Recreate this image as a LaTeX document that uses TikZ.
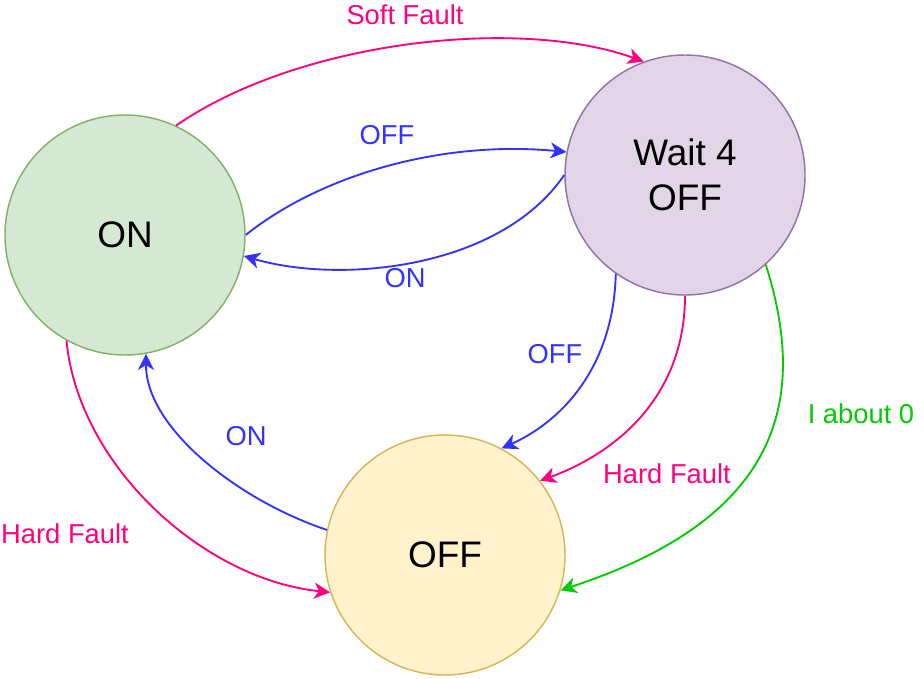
\documentclass[tikz,border=0pt]{standalone}
\usepackage{fontspec}
\setmainfont{Liberation Sans}
\usetikzlibrary{arrows.meta}

\definecolor{pinkline}{HTML}{FF0080}
\definecolor{blueline}{HTML}{3333FF}
\definecolor{greenline}{HTML}{00CC00}
\definecolor{onfill}{HTML}{D5E8D4}
\definecolor{ondraw}{HTML}{82B366}
\definecolor{waitfill}{HTML}{E1D5E7}
\definecolor{waitdraw}{HTML}{9673A6}
\definecolor{offfill}{HTML}{FFF2CC}
\definecolor{offdraw}{HTML}{D6B656}

\tikzset{
  state/.style={circle, minimum size=180pt, inner sep=0pt, line width=1.1pt,
    align=center, font=\fontsize{27.7}{34}\selectfont},
  trans/.style={line width=1.4pt, arrows={-Stealth[length=12pt, width=12pt, inset=3.5pt]}},
  lbl/.style={font=\fontsize{20.5}{24}\selectfont}
}

\begin{document}
\begin{tikzpicture}[x=0.75pt, y=-0.75pt]
                \useasboundingbox (0,0) rectangle (924,678);
                \node [state, fill=onfill, draw=ondraw] (on) at (125,235) {ON};
                \node [state, fill=waitfill, draw=waitdraw] (wait) at (685,175) {Wait 4\\OFF};
                \node [state, fill=offfill, draw=offdraw] (off) at (445,555) {OFF};

                \draw [trans, pinkline] (on.65) .. controls +(123,-85) and +(-125,-45) .. (wait.110);
                \draw [trans, blueline] (on.east) .. controls +(75,-60) and +(-125,-12) .. (wait.169);
                \draw [trans, blueline] (wait.west) .. controls +(-65,95) and +(95,28) .. (on.-10);
                \draw [trans, blueline] (wait.235) .. controls +(-2,85) and +(68,-31) .. (off.62);
                \draw [trans, pinkline] (wait.270) .. controls +(0,100) and +(77,-28) .. (off.38);
                \draw [trans, greenline] (wait.312) .. controls +(42,133) and +(223,-73) .. (off.-17);
                \draw [trans, blueline] (off.168) .. controls +(-87,-29) and +(0,75) .. (on.-80);
                \draw [trans, pinkline] (on.241) .. controls +(12,125) and +(-127,-13) .. (off.198);

                \node [lbl, pinkline] (softlbl) at (405,15) {Soft Fault};
                \node [lbl, blueline] (offlbla) at (387,135) {OFF};
                \node [lbl, blueline] (onlbla) at (405,278) {ON};
                \node [lbl, blueline] (offlblb) at (555,354) {OFF};
                \node [lbl, pinkline] (hardlbla) at (667,474) {Hard Fault};
                \node [lbl, greenline] (ilbl) at (861,414) {I about 0};
                \node [lbl, blueline] (onlblb) at (246,436) {ON};
                \node [lbl, pinkline] (hardlblb) at (65,534) {Hard Fault};
            \end{tikzpicture}
\end{document}
